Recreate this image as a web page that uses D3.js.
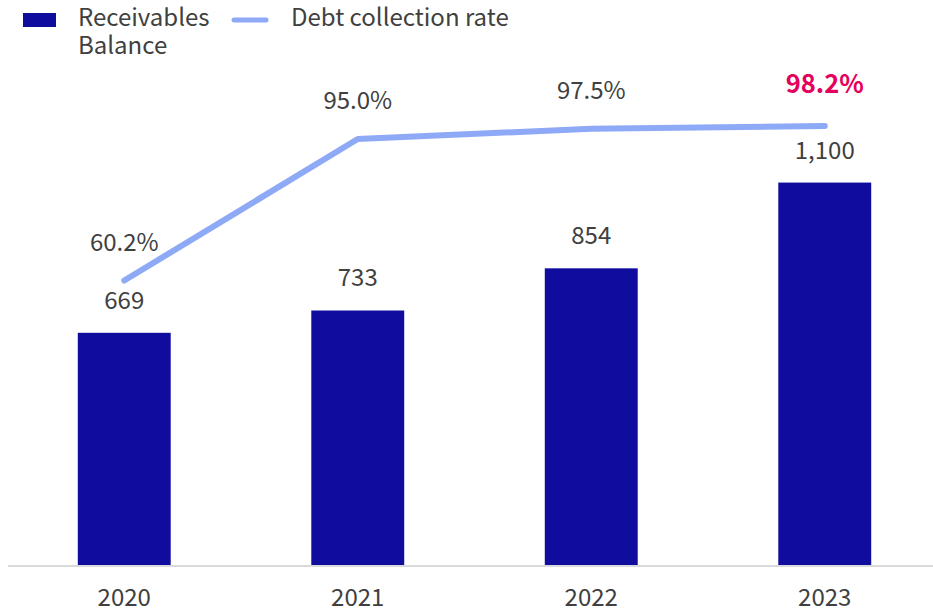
<!DOCTYPE html>
<html>
<head>
<meta charset="utf-8">
<script src="https://cdn.jsdelivr.net/npm/d3@7/dist/d3.min.js"></script>
<style>
  html, body { margin: 0; padding: 0; background: #fff; }
  svg { display: block; }
  text { font-family: "Noto Sans CJK JP", "Noto Sans", sans-serif; fill: #404040; }
</style>
</head>
<body>
<svg id="chart" width="933" height="610"></svg>
<script>
// Yearly figures
const years = ["2020", "2021", "2022", "2023"];
const receivables = [669, 733, 854, 1100];          // receivables balance
const collectionRate = [60.2, 95.0, 97.5, 98.2];    // debt collection rate, %

const barColor = "#100c9e";
const lineColor = "#8eaaf7";
const accent = "#e5005c";
const fontSize = 24;

const svg = d3.select("#chart");
const W = 933, baseY = 566, topY = 78;

const x = d3.scaleBand()
  .domain(years)
  .range([7.5, 941.5])
  .paddingInner(0.602)
  .paddingOuter(0.301);

const yBar = d3.scaleLinear().domain([0, 1400]).range([baseY, topY]);
const yRate = d3.scaleLinear().domain([-10, 110]).range([baseY, topY]);

const rows = years.map((y, i) => ({ year: y, bal: receivables[i], rate: collectionRate[i], last: i === years.length - 1 }));
const cx = d => x(d.year) + x.bandwidth() / 2;

// Bars
svg.append("g").selectAll("rect")
  .data(rows)
  .join("rect")
  .attr("x", d => x(d.year))
  .attr("y", d => yBar(d.bal))
  .attr("width", x.bandwidth())
  .attr("height", d => baseY - yBar(d.bal))
  .attr("fill", barColor);

// Category axis
const axis = svg.append("g")
  .attr("transform", `translate(0,${baseY})`)
  .call(d3.axisBottom(x).tickSize(0).tickSizeOuter(0));
axis.select(".domain")
  .attr("d", `M8,0H${W}`)
  .attr("stroke", "#d9d9d9")
  .attr("stroke-width", 2);
axis.selectAll(".tick text")
  .attr("y", 40)
  .attr("dy", null)
  .attr("font-size", fontSize)
  .attr("font-family", null)
  .style("fill", "#404040");

// Bar value labels
svg.append("g").selectAll("text")
  .data(rows)
  .join("text")
  .attr("x", cx)
  .attr("y", d => yBar(d.bal) - 24)
  .attr("text-anchor", "middle")
  .attr("font-size", fontSize)
  .text(d => d3.format(",")(d.bal));

// Collection rate line
const line = d3.line().x(cx).y(d => yRate(d.rate));
svg.append("path")
  .datum(rows)
  .attr("d", line)
  .attr("fill", "none")
  .attr("stroke", lineColor)
  .attr("stroke-width", 6)
  .attr("stroke-linecap", "round")
  .attr("stroke-linejoin", "round");

// Rate labels (latest year highlighted)
svg.append("g").selectAll("text")
  .data(rows)
  .join("text")
  .attr("x", cx)
  .attr("y", d => yRate(d.rate) - (d.last ? 33 : 30))
  .attr("text-anchor", "middle")
  .attr("font-size", d => d.last ? 25.5 : fontSize)
  .attr("font-weight", d => d.last ? 700 : 400)
  .style("fill", d => d.last ? accent : "#404040")
  .text(d => d.rate.toFixed(1) + "%");

// Legend
const legend = svg.append("g");
legend.append("rect")
  .attr("x", 23).attr("y", 13).attr("width", 33).attr("height", 14)
  .attr("fill", barColor);
legend.append("text")
  .attr("x", 78).attr("y", 26).attr("font-size", fontSize)
  .text("Receivables");
legend.append("text")
  .attr("x", 78).attr("y", 54).attr("font-size", fontSize)
  .text("Balance");
legend.append("line")
  .attr("x1", 234).attr("x2", 266).attr("y1", 20).attr("y2", 20)
  .attr("stroke", lineColor).attr("stroke-width", 5).attr("stroke-linecap", "round");
legend.append("text")
  .attr("x", 291).attr("y", 26).attr("font-size", fontSize)
  .text("Debt collection rate");
</script>
</body>
</html>
